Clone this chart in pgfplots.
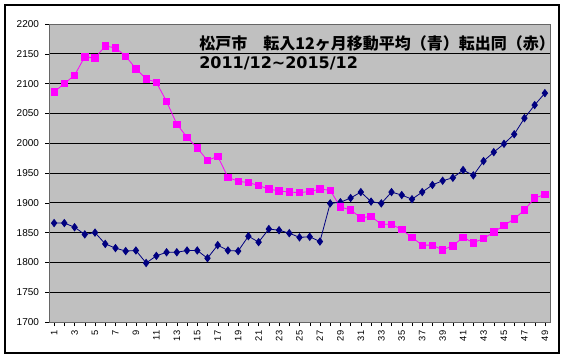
\documentclass[border=0pt]{standalone}
\usepackage{pgfplots}
\pgfplotsset{compat=1.18}
\usepackage{fontspec}
\setmainfont{Liberation Sans}
\newfontfamily\cjk{Noto Sans CJK JP}
\newfontfamily\dvs{DejaVu Sans}
\definecolor{plotgray}{RGB}{192,192,192}
\definecolor{navyb}{RGB}{0,0,128}
\definecolor{mag}{RGB}{255,0,255}
\begin{document}
\begin{tikzpicture}[x=0.75pt,y=0.75pt]
\useasboundingbox (0,0) rectangle (566,360);
\draw[black,line width=0.9pt] (5,7) rectangle (559,355);
\begin{axis}[
  at={(36.75pt,28.5pt)}, anchor=south west,
  scale only axis, width=375.75pt, height=223.5pt,
  xmin=0.5, xmax=49.5, ymin=1700, ymax=2200,
  ytick={1700,1750,...,2200},
  xtick={1,3,...,49},
  minor xtick={2,4,...,48},
  axis background/.style={fill=plotgray},
  axis line style={draw=gray!80!black},
  ymajorgrids, grid style={black,line width=0.7pt},
  tick style={black},
  major tick length=3pt, minor tick length=3pt,
  xtick pos=bottom, ytick pos=left,
  xtick align=outside, ytick align=outside,
  /pgf/number format/assume math mode=true,
  /pgf/number format/1000 sep={},
  yticklabel style={font=\fontsize{7.5}{8}\selectfont, xshift=-1pt},
  xticklabel style={font=\fontsize{7}{8}\selectfont, rotate=90, anchor=east},
  clip=false,
]
\addplot[navyb, line width=0.6pt, mark=diamond*, mark size=2.7pt, mark options={fill=navyb,draw=navyb}] coordinates {
(1,1866)(2,1866)(3,1859)(4,1847)(5,1850)(6,1831)(7,1824)(8,1819)(9,1820)(10,1799)
(11,1811)(12,1817)(13,1817)(14,1820)(15,1820)(16,1807)(17,1829)(18,1820)(19,1819)(20,1844)
(21,1834)(22,1856)(23,1854)(24,1849)(25,1842)(26,1843)(27,1835)(28,1899)(29,1901)(30,1908)
(31,1918)(32,1902)(33,1899)(34,1918)(35,1913)(36,1906)(37,1918)(38,1930)(39,1937)(40,1942)
(41,1955)(42,1946)(43,1970)(44,1985)(45,1999)(46,2015)(47,2042)(48,2064)(49,2084)
};
\addplot[mag, line width=0.6pt, mark=square*, mark size=2.4pt, mark options={fill=mag,draw=mag}] coordinates {
(1,2086)(2,2100)(3,2114)(4,2145)(5,2143)(6,2163)(7,2160)(8,2146)(9,2125)(10,2108)
(11,2102)(12,2070)(13,2032)(14,2010)(15,1992)(16,1971)(17,1978)(18,1943)(19,1936)(20,1934)
(21,1929)(22,1923)(23,1920)(24,1918)(25,1917)(26,1919)(27,1923)(28,1921)(29,1893)(30,1888)
(31,1875)(32,1877)(33,1864)(34,1864)(35,1855)(36,1842)(37,1829)(38,1829)(39,1821)(40,1828)
(41,1842)(42,1833)(43,1840)(44,1851)(45,1862)(46,1873)(47,1888)(48,1908)(49,1914)
};
\end{axis}
\node[anchor=west, font=\cjk\bfseries\fontsize{12}{13}\selectfont, inner sep=0pt] at (199,317) {松戸市　転入12ヶ月移動平均（青）転出同（赤）};
\node[anchor=west, font=\dvs\bfseries\fontsize{12}{13}\selectfont, inner sep=0pt] at (199,297) {2011/12\textasciitilde2015/12};
\end{tikzpicture}
\end{document}
